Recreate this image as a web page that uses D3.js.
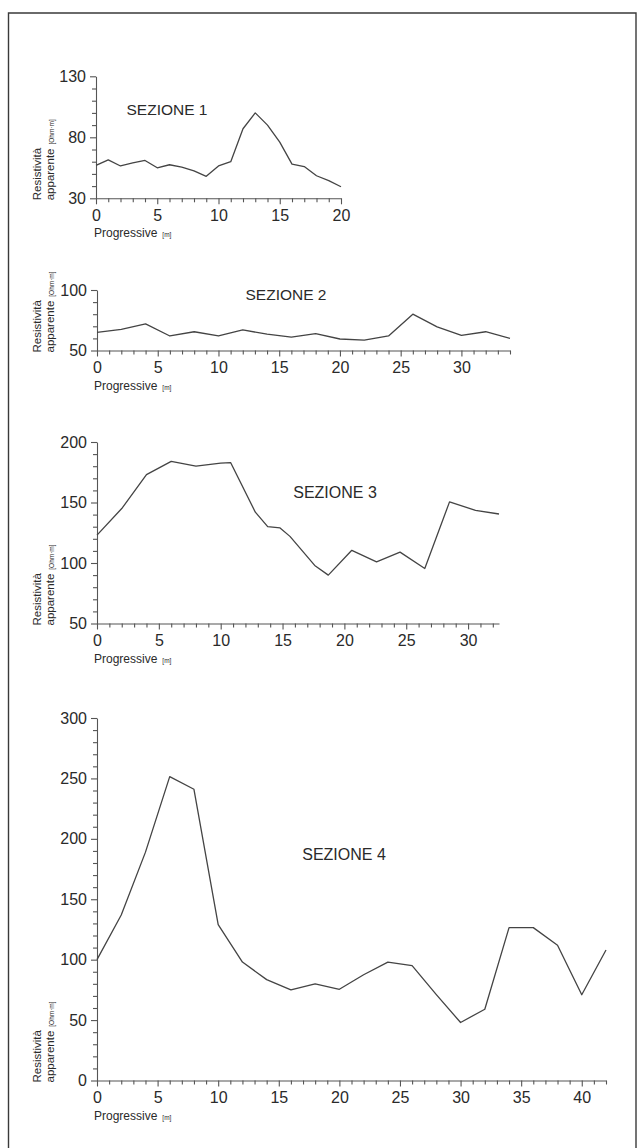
<!DOCTYPE html>
<html><head><meta charset="utf-8">
<script src="https://cdn.jsdelivr.net/npm/d3@7"></script>
<style>
body{margin:0;background:#fff}
svg{display:block}
text{font-family:'Liberation Sans',Arial,Helvetica,sans-serif;fill:#2a2a2a}
</style>
</head><body>
<svg id="c" width="637" height="1148"></svg>
<script>
// ---- data ----
const titles = ["SEZIONE 1", "SEZIONE 2", "SEZIONE 3", "SEZIONE 4"];
const xLabel = "Progressive";
const xUnit = "[m]";
const yLabel1 = "Resistività";
const yLabel2 = "apparente";
const yUnit = "[Ohm·m]";

const s1X = [0,1,2,3,4,5,6,7,8,9,10,11,12,13,14,15,16,17,18,19,20];
const s1Y = [57,61.5,56.5,59,61,55,57.5,55.5,52.5,48,56.5,60,87,100,90,76,58,56,48.5,44.5,39.5];

const s2X = [0,2,4,6,8,10,12,14,16,18,20,22,24,26,28,30,32,34];
const s2Y = [65,67.5,72,62,65.5,62,67,63.5,61,64,59.5,58.5,62,80,69.5,62.5,65.5,60];

const s3X = [0,2,4,6,8,10,10.8,12.8,13.8,14.8,15.6,17.6,18.7,20.6,22.6,24.5,26.5,28.5,30.6,32.5];
const s3Y = [123,145,173,184,180,182.5,183,142,130,129,122,98,90,110.5,101,109,95.5,150.5,143.5,140.5];

const s4X = [0,2,4,6,8,10,12,14,16,18,20,22,24,26,28,30,32,34,36,38,40,42];
const s4Y = [100,137,189,251.5,241,129,98,83.5,75,80,75.5,87.5,98,95,71,48,59,126.5,126.5,112,71,108];

const xTicks1 = [0,5,10,15,20];
const xTicks2 = [0,5,10,15,20,25,30];
const xTicks3 = [0,5,10,15,20,25,30];
const xTicks4 = [0,5,10,15,20,25,30,35,40];
const yTicks1 = [30,80,130];
const yTicks2 = [50,100];
const yTicks3 = [50,100,150,200];
const yTicks4 = [0,50,100,150,200,250,300];

// ---- layout ----
const panels = [
  {xs:s1X, ys:s1Y, xd:[0,20],   yd:[30,130], xr:[96,341], yr:[198.3,76.3],  xt:xTicks1, yt:yTicks1, title:titles[0], tx:167, ty:110, tf:15.5},
  {xs:s2X, ys:s2Y, xd:[0,34],   yd:[50,100], xr:[97,510], yr:[350.5,290],   xt:xTicks2, yt:yTicks2, title:titles[1], tx:286, ty:295, tf:15.5},
  {xs:s3X, ys:s3Y, xd:[0,32.5], yd:[50,200], xr:[97,499], yr:[623.5,442],   xt:xTicks3, yt:yTicks3, title:titles[2], tx:335, ty:492, tf:16},
  {xs:s4X, ys:s4Y, xd:[0,42],   yd:[0,300],  xr:[97,606], yr:[1080.5,718],  xt:xTicks4, yt:yTicks4, title:titles[3], tx:344, ty:854, tf:16}
];

const svg = d3.select("#c");
svg.append("rect").attr("width",637).attr("height",1148).attr("fill","#fff");

// frame
svg.append("path")
  .attr("d","M8.5,1148 V13 H636 V1148")
  .attr("fill","none").attr("stroke","#3a3a3a").attr("stroke-width",1.4);

const axisCol = "#555";

panels.forEach(p => {
  const x = d3.scaleLinear().domain(p.xd).range(p.xr);
  const y = d3.scaleLinear().domain(p.yd).range(p.yr);
  const g = svg.append("g");
  const yb = p.yr[0];
  const x0 = p.xr[0];

  const minorX = d3.range(Math.ceil(p.xd[0]), Math.floor(p.xd[1]) + 1).filter(v => !p.xt.includes(v));
  const minorY = d3.range(p.yd[0], p.yd[1] + 1, 10).filter(v => !p.yt.includes(v));

  // x axis
  const gx = g.append("g").attr("transform", `translate(0,${yb})`);
  gx.append("g").call(d3.axisBottom(x).tickValues(minorX).tickSize(4).tickSizeOuter(0).tickFormat(""));
  gx.append("g").call(d3.axisBottom(x).tickValues(p.xt).tickSize(6).tickSizeOuter(0).tickPadding(5).tickFormat(d3.format("d")))
    .call(a => a.select(".domain").remove());
  gx.selectAll("path,line").attr("stroke", axisCol).attr("stroke-width", 1.1);
  gx.selectAll("text").attr("font-size", 16).attr("fill", "#2a2a2a").attr("font-family", "'Liberation Sans',Arial,sans-serif");

  // y axis
  const gy = g.append("g").attr("transform", `translate(${x0},0)`);
  gy.append("g").call(d3.axisLeft(y).tickValues(minorY).tickSize(4).tickSizeOuter(0).tickFormat(""));
  gy.append("g").call(d3.axisLeft(y).tickValues(p.yt).tickSize(6).tickSizeOuter(0).tickPadding(4).tickFormat(d3.format("d")))
    .call(a => a.select(".domain").remove());
  gy.selectAll("path,line").attr("stroke", axisCol).attr("stroke-width", 1.1);
  gy.selectAll("text").attr("font-size", 16).attr("fill", "#2a2a2a").attr("font-family", "'Liberation Sans',Arial,sans-serif");

  // line
  const line = d3.line().x((d,i) => x(p.xs[i])).y(d => y(d));
  g.append("path").datum(p.ys).attr("d", line)
    .attr("fill","none").attr("stroke","#444").attr("stroke-width",1.3).attr("stroke-linejoin","round");

  // title
  g.append("text").attr("x", p.tx).attr("y", p.ty).attr("dy","0.35em")
    .attr("text-anchor","middle").attr("font-size", p.tf).text(p.title);

  // x label
  const xl = g.append("text").attr("x", 94).attr("y", yb + 39).attr("font-size", 12);
  xl.append("tspan").text(xLabel);
  xl.append("tspan").attr("font-size", 6.5).attr("dx", 5).text(xUnit);

  // y label
  const yl = g.append("g").attr("transform", `translate(41,${yb + 2}) rotate(-90)`);
  yl.append("text").attr("x",0).attr("y",0).attr("font-size",11.5).text(yLabel1);
  const t2 = yl.append("text").attr("x",0).attr("y",12.5).attr("font-size",11.5);
  t2.append("tspan").text(yLabel2);
  t2.append("tspan").attr("font-size",6.5).attr("dx",4).text(yUnit);
});
</script>
</body></html>
